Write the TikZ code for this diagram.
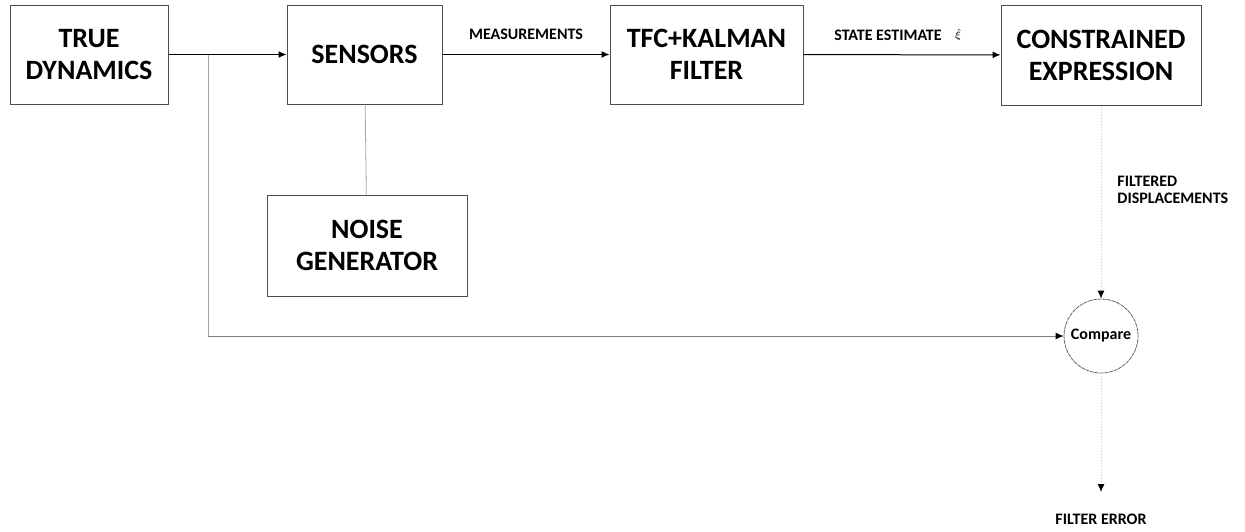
\documentclass[tikz,border=0pt]{standalone}
\usepackage{amsmath}
\usepackage{fontspec}
\setmainfont{Carlito}
\usepackage{tikz}
\usetikzlibrary{positioning, arrows.meta}

\tikzset{
  blockbox/.style={draw=black!70, line width=0.5pt, align=center,
    font=\fontsize{14}{16}\selectfont\bfseries, inner sep=0pt},
  sigtext/.style={font=\fontsize{8}{8.5}\selectfont\bfseries, inner sep=1pt},
  flow/.style={-{Latex[length=4pt,width=3.5pt,color=black]}, line width=0.5pt},
  faint/.style={draw=black!35, line width=0.4pt},
  faintdot/.style={draw=red!25!black!25, line width=0.5pt, densely dotted}
}

\begin{document}
\begin{tikzpicture}[x=0.5pt, y=-0.5pt]
\useasboundingbox (0,0) rectangle (1245,531);

\node[blockbox, minimum width=79pt, minimum height=49.5pt]   (TD)  at (89,54.5)   {TRUE\\DYNAMICS};
\node[blockbox, minimum width=77.5pt, minimum height=49.5pt] (SE)  at (364.5,54.5) {SENSORS};
\node[blockbox, minimum width=96.5pt, minimum height=49.5pt] (KF)  at (706.5,54.5) {TFC+KALMAN\\FILTER};
\node[blockbox, minimum width=100pt, minimum height=50pt]    (CE)  at (1101,55)   {CONSTRAINED\\EXPRESSION};
\node[blockbox, minimum width=100pt, minimum height=50.5pt]  (NG)  at (367,245.5) {NOISE\\GENERATOR};
\node[draw=black!60, dash pattern=on 2pt off 0.4pt, circle, minimum size=37pt, inner sep=0pt,
      font=\fontsize{8}{9}\selectfont\bfseries] (CMP) at (1101,336) {Compare};

\coordinate (split) at (208,54.5);
\coordinate (low)   at (208,336);
\coordinate (err)   at (1101,492);

% main chain
\draw[flow] (TD) -- (SE);
\draw[flow] (SE) -- node[sigtext, above=6pt] {MEASUREMENTS} (KF);
\draw[flow] (KF) -- node[sigtext, above=6pt, xshift=-7pt] (SL) {STATE ESTIMATE} (CE);
\node[font=\tiny, inner sep=0pt, right=5pt of SL] (SG) {$\hat{\xi}$};

% noise and reference path
\draw[faint] (NG) -- (SE);
\draw[faint] (split) -- (low);
\draw[flow, draw=black!50] (low) -- (CMP);

% output side
\draw[flow, faintdot] (CE) -- (CMP);
\node[sigtext, align=left, anchor=west] (FD) at (1115,190) {FILTERED\\DISPLACEMENTS};
\draw[flow, faintdot] (CMP) -- (err);
\node[sigtext] (FE) at (1101,519) {FILTER ERROR};
\end{tikzpicture}
\end{document}
